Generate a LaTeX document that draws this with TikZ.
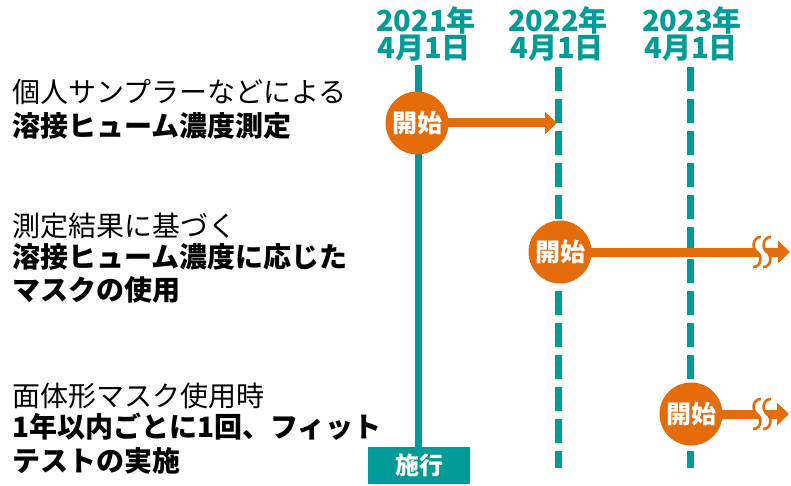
\documentclass[tikz,border=0pt]{standalone}
\usepackage{fontspec}
\setmainfont{Noto Sans CJK JP}
\usetikzlibrary{arrows.meta}
\definecolor{tealc}{RGB}{0,155,150}
\definecolor{orgc}{RGB}{228,108,10}
\newcommand\wavebrk[2]{%
  \begin{scope}[shift={(#1,#2)}]
    \draw[white,line width=8] (4,-15) .. controls (-5,-15) and (-5,-3) .. (0,0) .. controls (5,3) and (5,15) .. (-4,15);
    \draw[orgc,line width=2.6] (-1,-15) .. controls (-10,-15) and (-10,-3) .. (-5,0) .. controls (0,3) and (0,15) .. (-9,15);
    \draw[orgc,line width=2.6] (9,-15) .. controls (0,-15) and (0,-3) .. (5,0) .. controls (10,3) and (10,15) .. (1,15);
  \end{scope}}
\begin{document}
\begin{tikzpicture}[x=1pt,y=-1pt,
  hdr/.style={text=tealc,font=\fontsize{29}{32}\selectfont\bfseries,inner sep=0pt,anchor=base},
  lbl/.style={font=\fontsize{28}{32}\selectfont,inner sep=0pt,anchor=base west},
  lblb/.style={font=\fontsize{28}{32}\selectfont\bfseries,inner sep=0pt,anchor=base west},
  circ/.style={circle,fill=orgc,minimum size=63pt,inner sep=0pt,text=white,font=\fontsize{25}{28}\selectfont\bfseries},
  tline/.style={tealc,line width=7},
  dline/.style={tealc,line width=7,dash pattern=on 24pt off 8pt},
  arr/.style={orgc,line width=9,-{Triangle[length=12pt,width=22pt]}}]
\useasboundingbox (0,0) rectangle (791,486);
% headers
\node[hdr] (h1a) at (426,32) {2021年};
\node[hdr] (h1b) at (424,59) {4月1日};
\node[hdr] (h2a) at (558,32) {2022年};
\node[hdr] (h2b) at (557,59) {4月1日};
\node[hdr] (h3a) at (692,32) {2023年};
\node[hdr] (h3b) at (691,59) {4月1日};
% timelines
\coordinate (l1t) at (418,65);
\node[fill=tealc,text=white,minimum width=102pt,minimum height=37pt,inner sep=0pt,font=\fontsize{24}{28}\selectfont\bfseries] (law) at (419,465.5) {施行};
\draw[tline] (l1t) -- (law.north -| l1t);
\coordinate (l2t) at (558,67);
\coordinate (l2b) at (558,468);
\coordinate (l3t) at (690,67);
\coordinate (l3b) at (690,468);
\draw[dline] (l2t) -- (l2b);
\draw[dline] (l3t) -- (l3b);
% arrows
\coordinate (s1) at (417,123);
\coordinate (e1) at (557,123);
\draw[arr] (s1) -- (e1);
\node[circ] (c1) at (s1) {開始};
\coordinate (s2) at (560,252);
\coordinate (e2) at (790,252);
\draw[arr] (s2) -- (e2);
\node[circ] (c2) at (s2) {開始};
\wavebrk{762}{252}
\coordinate (s3) at (691,414);
\coordinate (e3) at (789,414);
\draw[arr] (s3) -- (e3);
\node[circ] (c3) at (s3) {開始};
\wavebrk{762}{414}
% labels
\node[lbl] (t1a) at (12,103) {個人サンプラーなどによる};
\node[lblb] (t1b) at (12,137) {溶接ヒューム濃度測定};
\node[lbl] (t2a) at (12,236) {測定結果に基づく};
\node[lblb] (t2b) at (12,267) {溶接ヒューム濃度に応じた};
\node[lblb] (t2c) at (12,300) {マスクの使用};
\node[lbl] (t3a) at (12,406) {面体形マスク使用時};
\node[lblb] (t3b) at (12,437) {1年以内ごとに1回、フィット};
\node[lblb] (t3c) at (12,471) {テストの実施};
\end{tikzpicture}
\end{document}
